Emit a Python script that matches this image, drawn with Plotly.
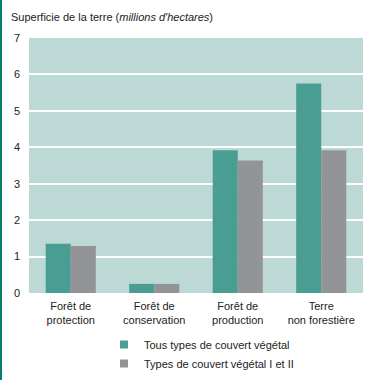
import plotly.graph_objects as go

categories = ["Forêt de<br>protection", "Forêt de<br>conservation", "Forêt de<br>production", "Terre<br>non forestière"]
tous_types = [1.35, 0.25, 3.92, 5.75]
types_I_II = [1.29, 0.25, 3.64, 3.92]
series_names = ["Tous types de couvert végétal", "Types de couvert végétal I et II"]
colors = ["#4a9d92", "#939497"]
y_ticks = [0, 1, 2, 3, 4, 5, 6, 7]

W, H = 373, 380
ml, mr, mt, mb = 29, 10, 38, 87
pw = W - ml - mr
ph = H - mt - mb

fig = go.Figure()
for vals, name, col in zip([tous_types, types_I_II], series_names, colors):
    fig.add_trace(go.Bar(x=categories, y=vals, name=name, legendgroup=name, showlegend=False,
                         marker=dict(color=col, line=dict(width=0))))
# legend entries with small square swatches
for name, col in zip(series_names, colors):
    fig.add_trace(go.Scatter(x=[None], y=[None], mode="markers", name=name, legendgroup=name,
                             marker=dict(symbol="square", size=8, color=col)))

font = dict(family="Liberation Sans, Arial, sans-serif", size=11, color="#222222")

fig.update_layout(
    width=W, height=H,
    margin=dict(l=ml, r=mr, t=mt, b=mb, autoexpand=False),
    paper_bgcolor="white",
    plot_bgcolor="#bdd9d5",
    barmode="group",
    bargap=0.4,
    bargroupgap=0,
    font=font,
    showlegend=True,
    legend=dict(x=(104 - ml) / pw, y=-(330 - mt - ph) / ph, xanchor="left", yanchor="top",
                orientation="v", font=dict(size=11), bgcolor="rgba(0,0,0,0)",
                itemsizing="trace", itemwidth=30, tracegroupgap=0),
    xaxis=dict(showgrid=False, zeroline=False, showline=False, ticks="",
               tickfont=dict(size=11), ticklabelstandoff=5, automargin=False),
    yaxis=dict(range=[0, 7], tickvals=y_ticks, showgrid=True, gridcolor="white",
               gridwidth=1.5, zeroline=False, showline=False, ticks="",
               tickfont=dict(size=11), ticklabelstandoff=8, automargin=False),
)

fig.add_annotation(xref="paper", yref="paper", x=-(ml - 9) / pw, y=1 + (mt - 17) / ph,
                   xanchor="left", yanchor="middle", showarrow=False,
                   text="Superficie de la terre (<i>millions d'hectares</i>)",
                   font=dict(size=11, color="#222222"))

fig.add_shape(type="line", xref="paper", yref="paper",
              x0=-(ml - 1) / pw, x1=-(ml - 1) / pw, y0=-mb / ph, y1=1 + mt / ph,
              line=dict(color="#0b7d6c", width=2))

fig.write_html("out.html", config={"displayModeBar": False},
               post_script="document.body.style.margin='0';")
